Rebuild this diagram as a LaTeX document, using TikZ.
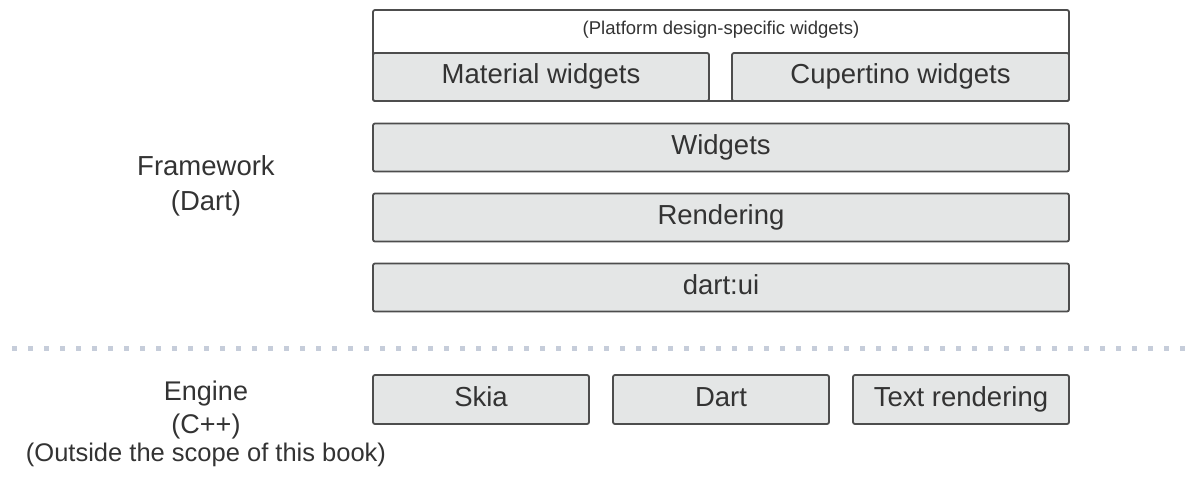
\documentclass[tikz,border=0pt]{standalone}
\usepackage{fontspec}
\setmainfont{Liberation Sans}
\definecolor{boxfill}{HTML}{E4E6E6}
\definecolor{boxline}{HTML}{4D4D4D}
\definecolor{txt}{HTML}{333333}
\definecolor{dotc}{HTML}{C6CDDA}
\begin{document}
\begin{tikzpicture}[x=1pt,y=-1pt,
  layer/.style={draw=boxline,line width=1.8pt,fill=boxfill,rounded corners=2pt,
    inner sep=0pt,text=txt,font=\fontsize{27.5}{32}\selectfont,
    text height=20pt,text depth=7pt},
  outerbox/.style={draw=boxline,line width=1.8pt,fill=white,rounded corners=2pt,inner sep=0pt},
  lbl/.style={text=txt,align=center,inner sep=0pt},
  dotline/.style={draw=dotc,line width=5pt,dash pattern=on 5pt off 11pt}]
\useasboundingbox (0,0) rectangle (1196,482);
% top platform container
\node[outerbox,minimum width=696pt,minimum height=91pt] (plat) at (721,55.5) {};
\node[lbl,font=\fontsize{18.5}{22}\selectfont] (platlbl) at (721,30) {(Platform design-specific widgets)};
\node[layer,minimum width=336pt,minimum height=48pt] (material) at (541,77) {Material widgets};
\node[layer,minimum width=337pt,minimum height=48pt] (cupertino) at (900.5,77) {Cupertino widgets};
% framework layers
\node[layer,minimum width=696pt,minimum height=48pt] (widgets) at (721,147.5) {Widgets};
\node[layer,minimum width=696pt,minimum height=48pt] (rendering) at (721,217.5) {Rendering};
\node[layer,minimum width=696pt,minimum height=48pt] (dartui) at (721,287.5) {dart:ui};
% separator
\coordinate (sepL) at (12,348);
\coordinate (sepR) at (1192,348);
\draw[dotline] (sepL) -- (sepR);
% engine
\node[layer,minimum width=216pt,minimum height=49pt] (skia) at (481,399.5) {Skia};
\node[layer,minimum width=216pt,minimum height=49pt] (dart) at (721,399.5) {Dart};
\node[layer,minimum width=216pt,minimum height=49pt] (textr) at (961,399.5) {Text rendering};
% labels
\node[lbl,font=\fontsize{27.5}{35}\selectfont] (fw) at (206,186) {Framework\\(Dart)};
\node[lbl,font=\fontsize{27}{33}\selectfont] (eng) at (206,410) {Engine\\(C++)};
\node[lbl,font=\fontsize{25.5}{30}\selectfont] (scope) at (206,455) {(Outside the scope of this book)};
\end{tikzpicture}
\end{document}
